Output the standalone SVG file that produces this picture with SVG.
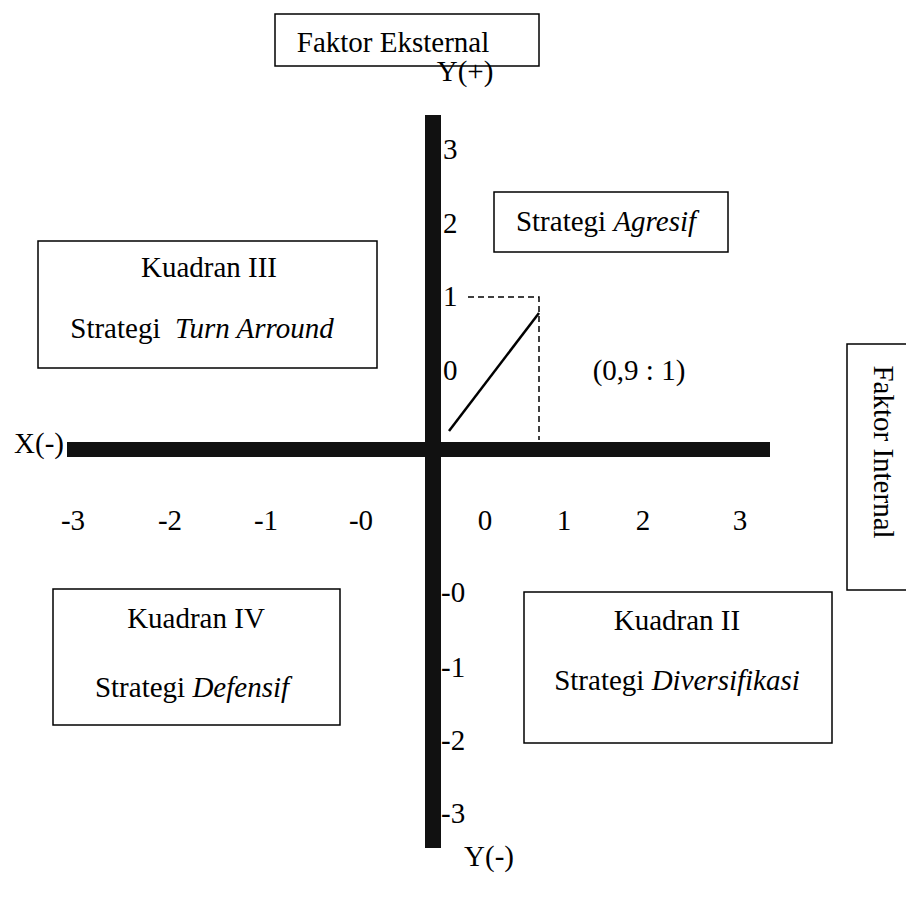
<svg xmlns="http://www.w3.org/2000/svg" width="906" height="900" viewBox="0 0 906 900">
<style>
text{font-family:'Liberation Serif','Times New Roman','DejaVu Serif',serif;font-size:29px;fill:#000}
.c{text-anchor:middle}
.i{font-style:italic}
.box{fill:#fff;stroke:#000;stroke-width:1.5}
.axis{stroke:#111;fill:none}
.dash{stroke:#000;stroke-width:1.5;stroke-dasharray:6 4;fill:none}
</style>
<rect width="906" height="900" fill="#fff"/>
<g id="connectors">
<line class="axis" x1="433" y1="115" x2="433" y2="848" stroke-width="16"/>
<line class="axis" x1="67" y1="449.5" x2="770" y2="449.5" stroke-width="15"/>
<polyline class="dash" points="468,297 539,297 539,440"/>
<line x1="449" y1="431" x2="539" y2="313" stroke="#000" stroke-width="2.5"/>
</g>
<g id="faktor-eksternal">
<rect class="box" x="275" y="14" width="264" height="52"/>
<text class="c" x="393" y="52">Faktor Eksternal</text>
</g>
<g id="faktor-internal">
<rect class="box" x="847" y="344" width="70" height="246"/>
<text class="c" transform="translate(874,452) rotate(90)">Faktor Internal</text>
</g>
<g id="kuadran-3">
<rect class="box" x="38" y="241" width="339" height="127"/>
<text class="c" x="209" y="277">Kuadran III</text>
<text class="c" x="202" y="338" xml:space="preserve">Strategi  <tspan class="i">Turn Arround</tspan></text>
</g>
<g id="strategi-agresif">
<rect class="box" x="494" y="192" width="234" height="60"/>
<text class="c" x="606" y="231">Strategi <tspan class="i">Agresif</tspan></text>
</g>
<g id="kuadran-4">
<rect class="box" x="53" y="589" width="287" height="136"/>
<text class="c" x="196" y="628">Kuadran IV</text>
<text class="c" x="192" y="697">Strategi <tspan class="i">Defensif</tspan></text>
</g>
<g id="kuadran-2">
<rect class="box" x="524" y="592" width="308" height="151"/>
<text class="c" x="677" y="630">Kuadran II</text>
<text class="c" x="677" y="690">Strategi <tspan class="i">Diversifikasi</tspan></text>
</g>
<g id="labels">
<text class="c" x="465" y="81">Y(+)</text>
<text class="c" x="39" y="453">X(-)</text>
<text class="c" x="489" y="866">Y(-)</text>
<text class="c" x="639" y="380">(0,9 : 1)</text>
<text x="443" y="159">3</text>
<text x="443" y="233">2</text>
<text x="443" y="306">1</text>
<text x="443" y="380">0</text>
<text x="441" y="602">-0</text>
<text x="441" y="677">-1</text>
<text x="441" y="750">-2</text>
<text x="441" y="823">-3</text>
<text class="c" x="73" y="530">-3</text>
<text class="c" x="170" y="530">-2</text>
<text class="c" x="266" y="530">-1</text>
<text class="c" x="361" y="530">-0</text>
<text class="c" x="485" y="530">0</text>
<text class="c" x="564" y="530">1</text>
<text class="c" x="643" y="530">2</text>
<text class="c" x="740" y="530">3</text>
</g>
</svg>
